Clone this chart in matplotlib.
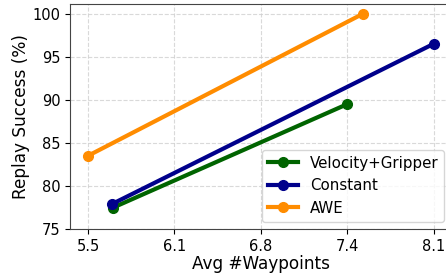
import matplotlib
matplotlib.use("Agg")
import matplotlib.pyplot as plt
import numpy as np

# waypoints vs replay success
vel_x = [5.69, 7.45]
vel_y = [77.5, 89.5]
const_x = [5.68, 8.1]
const_y = [77.9, 96.5]
awe_x = [5.5, 7.57]
awe_y = [83.5, 100.0]

xticks = np.linspace(5.5, 8.1, 5)
xtick_labels = ["5.5", "6.1", "6.8", "7.4", "8.1"]
yticks = [75, 80, 85, 90, 95, 100]

fig = plt.figure(figsize=(4.46, 2.74), dpi=100)
ax = fig.add_axes([0.157, 0.164, 0.856, 0.821])

ax.plot(vel_x, vel_y, marker="o", color="darkgreen", lw=3, ms=7, label="Velocity+Gripper")
ax.plot(const_x, const_y, marker="o", color="darkblue", lw=3, ms=7, label="Constant")
ax.plot(awe_x, awe_y, marker="o", color="darkorange", lw=3, ms=7, label="AWE")

ax.set_xlim(5.365, 8.235)
ax.set_ylim(75, 101.1)
ax.set_xticks(xticks)
ax.set_xticklabels(xtick_labels)
ax.set_yticks(yticks)
ax.tick_params(labelsize=10.5)
ax.set_xlabel("Avg #Waypoints", fontsize=12.2, labelpad=1)
ax.set_ylabel("Replay Success (%)", fontsize=12.2, labelpad=2)
ax.grid(True, linestyle="--", color="#d0d0d0", alpha=0.8, lw=0.8)
for s in ax.spines.values():
    s.set_color("#444444")

ax.legend(loc="lower right", fontsize=10.8)

fig.savefig("out.png", dpi=100)
